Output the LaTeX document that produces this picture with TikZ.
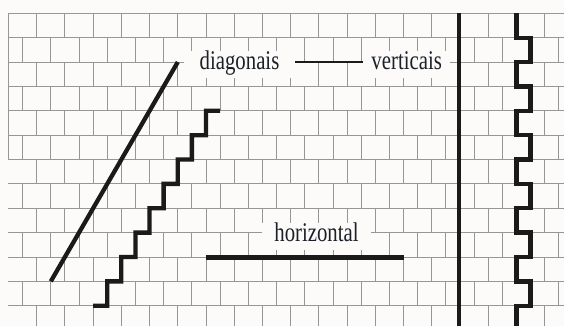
\documentclass[tikz,border=0pt]{standalone}
\usepackage{fontspec}
\setmainfont{Liberation Serif}[FakeStretch=0.77]
\definecolor{bg}{RGB}{252,251,249}
\definecolor{gridc}{RGB}{150,150,150}
\definecolor{ink}{RGB}{26,26,26}
\definecolor{txt}{RGB}{28,32,40}
\begin{document}
\begin{tikzpicture}[x=1pt,y=-1pt,
  brick/.style={draw=gridc,line width=0.9pt},
  boldline/.style={draw=ink,line width=4.3pt},
  lbl/.style={fill=bg,font=\fontsize{27}{30}\selectfont,text=txt,inner ysep=0pt,
    text height=19pt,text depth=8pt,anchor=base}]
\path[use as bounding box,fill=bg] (0,0) rectangle (564,326);
% mortar bed joints
\foreach \r in {0,...,12}{
  \draw[brick] (8.3,{13.3+24.37*\r}) -- (564,{13.3+24.37*\r});
}
% head joints
\foreach \r in {0,...,12}{
  \pgfmathsetmacro\yt{13.3+24.37*\r}
  \pgfmathsetmacro\yb{min(13.3+24.37*(\r+1),326)}
  \pgfmathsetmacro\xo{mod(\r,2)==0 ? 36.7 : 22.6}
  \foreach \k in {0,...,19}{
    \draw[brick] ({\xo+28.22*\k},\yt) -- ({\xo+28.22*\k},\yb);
  }
}
\draw[brick] (8.3,13.3) -- (8.3,159.52);
% labels
\node[lbl,inner xsep=15.5pt] (diag) at (239.5,70) {diagonais};
\node[lbl,inner xsep=8pt] (vert) at (406.7,70) {verticais};
\node[lbl,inner xsep=12.5pt] (horiz) at (316.5,241.7) {horizontal};
\coordinate (r2) at (0,62.04);
\draw[ink,line width=1.1pt] (diag.east |- r2) -- (vert.west |- r2);
% diagonal
\draw[boldline] (50.8,281.37) -- (177.8,62.04);
% toothed diagonal
\draw[boldline] (93.1,305.74) \foreach \i in {0,...,7}{ -| ({107.2+14.11*\i},{281.37-24.37*\i}) } -- (220.1,110.78);
% horizontal
\draw[boldline,line width=5pt] (206,257) -- (403.5,257);
% vertical
\draw[boldline] (459.3,13.3) -- (459.3,326);
% toothed vertical
\draw[boldline] (516.4,13.3) \foreach \r in {1,...,12}{ -- ({516.4+14.2*mod(\r-1,2)},{13.3+24.37*\r}) -- ({516.4+14.2*mod(\r,2)},{13.3+24.37*\r}) } -- (516.4,326);
\end{tikzpicture}
\end{document}
